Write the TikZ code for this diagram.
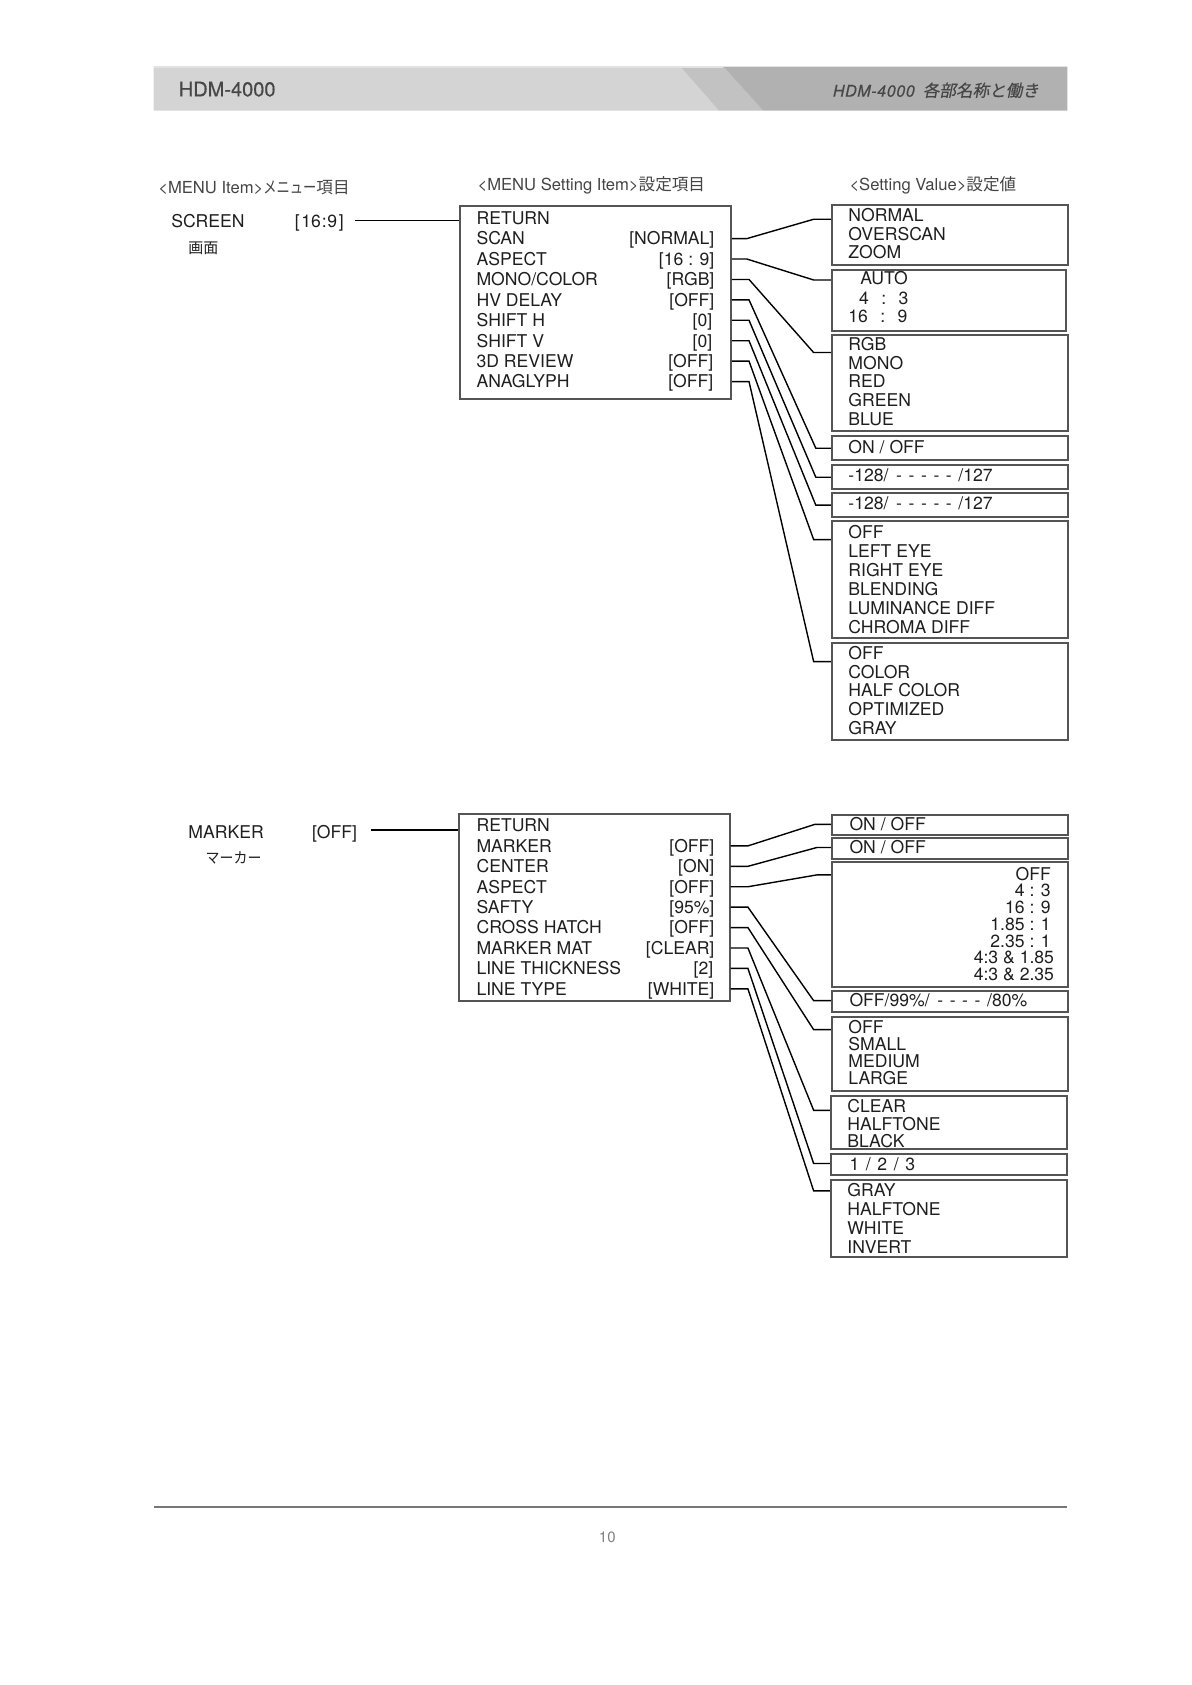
\documentclass[tikz,border=0pt]{standalone}
\usepackage{fontspec}
\setmainfont{TeX Gyre Heros}
\newfontfamily\jp{Noto Sans CJK JP}
\newfontfamily\jpn[FakeStretch=0.8]{Noto Sans CJK JP}
\newfontfamily\jpm[FakeStretch=0.93]{Noto Sans CJK JP}
\newfontfamily\jpit[FakeSlant=0.2,FakeBold=0.4]{Noto Sans CJK JP}
\newfontfamily\hdrfont[FakeBold=0.6]{TeX Gyre Heros}
\newfontfamily\hdrit[FakeBold=0.4,LetterSpace=4]{TeX Gyre Heros Italic}
\usetikzlibrary{calc}
\definecolor{boxgray}{HTML}{555555}
\definecolor{txt}{HTML}{1E1E1E}
\definecolor{hdrtxt}{HTML}{474747}
\definecolor{coltxt}{HTML}{444444}
\definecolor{barA}{HTML}{D4D4D4}
\definecolor{barB}{HTML}{C2C2C2}
\definecolor{barC}{HTML}{B1B1B1}
\definecolor{barEdge}{HTML}{E2E2E2}
\definecolor{rulegray}{HTML}{777777}
\definecolor{pagegray}{HTML}{808080}
\newcommand\mkbox[5]{\node[box, minimum width={(#4-#2)*0.5374pt}, minimum height={(#5-#3)*0.5374pt}] (#1) at (#2,#3) {};}
\newcommand\lstL[5]{\foreach \t [count=\i] in {#5} {\node[item, anchor=west] (#1-\i) at (#2, {#3+#4*(\i-1)}) {\t};}}
\newcommand\lstR[5]{\foreach \t [count=\i] in {#5} {\node[item, anchor=east] (#1-\i) at (#2, {#3+#4*(\i-1)}) {\t};}}
\newcommand\dsh{-\hspace{3.3pt}}
\begin{document}
\begin{tikzpicture}[x=0.5374pt, y=-0.5374pt,
  item/.style={inner sep=0pt, text height=6.3pt, text depth=0pt, font=\fontsize{8.8}{10}\selectfont, text=txt},
  box/.style={draw=boxgray, line width=1pt, inner sep=0pt, anchor=north west},
  conn/.style={line width=0.7pt, draw=black},
  colhead/.style={inner sep=0pt, anchor=west, font=\fontsize{8.3}{10}\selectfont, text=coltxt},
  jpsub/.style={inner sep=0pt, anchor=west, font=\fontsize{7.5}{9}\selectfont, text=txt}]
\useasboundingbox (0,0) rectangle (1109,1567.7);

% ---------- header bar ----------
\fill[barA] (143,62) -- (633,62) -- (669,103) -- (143,103) -- cycle;
\fill[barB] (633,62) -- (673,62) -- (710,103) -- (669,103) -- cycle;
\fill[barC] (673,62) -- (993,62) -- (993,103) -- (710,103) -- cycle;
\draw[barEdge, line width=0.8pt] (143,62.6) -- (673,62.6);
\node[inner sep=0pt, anchor=west, font=\hdrfont\fontsize{10}{12}\selectfont, text=hdrtxt] (hdrL) at (166,83) {HDM-4000};
\node[inner sep=0pt, anchor=east, text=hdrtxt] (hdrR) at (967,84)
  {{\hdrit\fontsize{8}{10}\selectfont HDM-4000}\hspace{4pt}{\jpit\fontsize{8.3}{10}\selectfont 各部名称と働き}};

% ---------- column headings ----------
\node[colhead] (ch1) at (147,175) {<MENU Item>{\jpn メニュー}{\jp 項目}};
\node[colhead] (ch2) at (444,172) {<MENU Setting Item>{\jp 設定項目}};
\node[colhead] (ch3) at (790,172) {<Setting Value>{\jp 設定値}};

% ---------- SCREEN ----------
\node[item, anchor=west] (s1name) at (159,206) {SCREEN};
\node[item, anchor=west] (s1val) at (274,206) {[\kern0.8pt 16\kern0.4pt:\kern0.4pt9\kern0.8pt]};
\node[jpsub, font=\jp\fontsize{7.5}{9}\selectfont] (s1jp) at (175,231) {画面};
\mkbox{m1}{427}{191}{679}{370}
\coordinate (s1c) at ([xshift=5.5pt,yshift=0.5pt]s1val.east);
\draw[conn] (s1c) -- (m1.west |- s1c);
\lstL{m1l}{443}{203}{19}{RETURN,SCAN,ASPECT,MONO/COLOR,HV DELAY,SHIFT H,SHIFT V,3D REVIEW,ANAGLYPH}
\node[item, anchor=east] (m1v2) at (665,222) {[NORMAL]};
\node[item, anchor=east] (m1v3) at (665,241) {[16 : 9]};
\node[item, anchor=east] (m1v4) at (665,260) {[RGB]};
\node[item, anchor=east] (m1v5) at (665,279) {[OFF]};
\node[item, anchor=east] (m1v6) at (663,298) {[0]};
\node[item, anchor=east] (m1v7) at (663,317) {[0]};
\node[item, anchor=east] (m1v8) at (664,336) {[OFF]};
\node[item, anchor=east] (m1v9) at (664,355) {[OFF]};

% value boxes (screen)
\mkbox{vb1}{773}{190}{993}{246}
\lstL{vb1t}{789}{200}{17.5}{NORMAL,OVERSCAN,ZOOM}
\mkbox{vb2}{773}{250}{991}{307}
\node[item, anchor=west] (vb2t1) at (800,259) {AUTO};
\node[item, anchor=west] (vb2t2) at (799,277) {4\hspace{0.7em}:\hspace{0.7em}3};
\node[item, anchor=west] (vb2t3) at (789,294.5) {16\hspace{0.7em}:\hspace{0.7em}9};
\mkbox{vb3}{773}{311}{993}{400}
\lstL{vb3t}{789}{320}{17.5}{RGB,MONO,RED,GREEN,BLUE}
\mkbox{vb4}{773}{405}{993}{427}
\node[item, anchor=west] (vb4t) at (789,416) {ON / OFF};
\mkbox{vb5}{773}{432}{993}{454}
\node[item, anchor=west] (vb5t) at (789,442.5) {-128/\hspace{3.8pt}\dsh\dsh\dsh\dsh\dsh/127};
\mkbox{vb6}{773}{458}{993}{480}
\node[item, anchor=west] (vb6t) at (789,468) {-128/\hspace{3.8pt}\dsh\dsh\dsh\dsh\dsh/127};
\mkbox{vb7}{773}{484}{993}{593}
\lstL{vb7t}{789}{495.5}{17.6}{OFF,LEFT EYE,RIGHT EYE,BLENDING,LUMINANCE DIFF,CHROMA DIFF}
\mkbox{vb8}{773}{597}{993}{688}
\lstL{vb8t}{789}{607.5}{17.5}{OFF,COLOR,HALF COLOR,OPTIMIZED,GRAY}

% connectors (screen)
\foreach \r/\st/\cx/\cy/\b in {2/14/757/204/vb1, 3/14/757/260.5/vb2, 4/16/757/328/vb3,
    5/16/759/417/vb4, 6/16/759/444/vb5, 7/16/759/470/vb6, 8/16/757/502/vb7, 9/16/757/615.5/vb8}{
  \coordinate (k\b) at (\cx,\cy);
  \draw[conn] (m1.east |- m1v\r) -- ++(\st,0) -- (k\b) -- (\b.west |- k\b);
}

% ---------- MARKER ----------
\node[item, anchor=west] (s2name) at (175,774) {MARKER};
\node[item, anchor=west] (s2val) at (290,774) {[OFF]};
\node[jpsub, font=\jpm\fontsize{7.5}{9}\selectfont] (s2jp) at (191,798) {マーカー};
\mkbox{m2}{426}{756}{678}{930}
\coordinate (s2c) at ([xshift=7pt,yshift=1pt]s2val.east);
\draw[conn] (s2c) -- (m2.west |- s2c);
\lstL{m2l}{443}{768}{19}{RETURN,MARKER,CENTER,ASPECT,SAFTY,CROSS HATCH,MARKER MAT,LINE THICKNESS,LINE TYPE}
\node[item, anchor=east] (m2v2) at (665,787) {[OFF]};
\node[item, anchor=east] (m2v3) at (665,806) {[ON]};
\node[item, anchor=east] (m2v4) at (665,825) {[OFF]};
\node[item, anchor=east] (m2v5) at (665,844) {[95\%]};
\node[item, anchor=east] (m2v6) at (665,863) {[OFF]};
\node[item, anchor=east] (m2v7) at (665,882) {[CLEAR]};
\node[item, anchor=east] (m2v8) at (664,901) {[2]};
\node[item, anchor=east] (m2v9) at (665,920) {[WHITE]};

% value boxes (marker)
\mkbox{lb1}{773}{757}{993}{776}
\node[item, anchor=west] (lb1t) at (790,766.5) {ON / OFF};
\mkbox{lb2}{773}{779}{993}{798}
\node[item, anchor=west] (lb2t) at (790,788.5) {ON / OFF};
\mkbox{lb3}{773}{801}{993}{917}
\lstR{lb3t}{978}{813}{15.6}{OFF,4 : 3,16 : 9,1.85 : 1,2.35 : 1}
\node[item, anchor=east] (lb3t6) at (981,891) {4:3 \& 1.85};
\node[item, anchor=east] (lb3t7) at (981,906.6) {4:3 \& 2.35};
\mkbox{lb4}{773}{921}{993}{941}
\node[item, anchor=west] (lb4t) at (790,931) {OFF/99\%/\hspace{3.8pt}\dsh\dsh\dsh\dsh/80\%};
\mkbox{lb5}{773}{945}{993}{1014}
\lstL{lb5t}{789}{955.5}{16}{OFF,SMALL,MEDIUM,LARGE}
\mkbox{lb6}{772}{1019}{992}{1068}
\lstL{lb6t}{788}{1029.5}{16}{CLEAR,HALFTONE,BLACK}
\mkbox{lb7}{772}{1073}{992}{1092}
\node[item, anchor=west] (lb7t) at (790,1083) {1\hspace{3.3pt}/\hspace{3.3pt}2\hspace{3.3pt}/\hspace{3.3pt}3};
\mkbox{lb8}{772}{1097}{992}{1169}
\lstL{lb8t}{788}{1107.5}{17.6}{GRAY,HALFTONE,WHITE,INVERT}

% connectors (marker)
\foreach \r/\st/\cx/\cy/\b in {2/16/758/767/lb1, 3/16/760/788.5/lb2, 4/16/760/814/lb3,
    5/16/757/931/lb4, 6/16/757/958/lb5, 7/16/757/1033/lb6, 8/16/757/1082.5/lb7, 9/16/757/1108/lb8}{
  \coordinate (k\b) at (\cx,\cy);
  \draw[conn] (m2.east |- m2v\r) -- ++(\st,0) -- (k\b) -- (\b.west |- k\b);
}

% ---------- footer ----------
\coordinate (fl) at (143,1402);
\coordinate (fr) at (993,1402);
\draw[rulegray, line width=1pt] (fl) -- (fr);
\node[inner sep=0pt, font=\fontsize{7.5}{9}\selectfont, text=pagegray] (pg) at (565,1430) {10};
\end{tikzpicture}
\end{document}
